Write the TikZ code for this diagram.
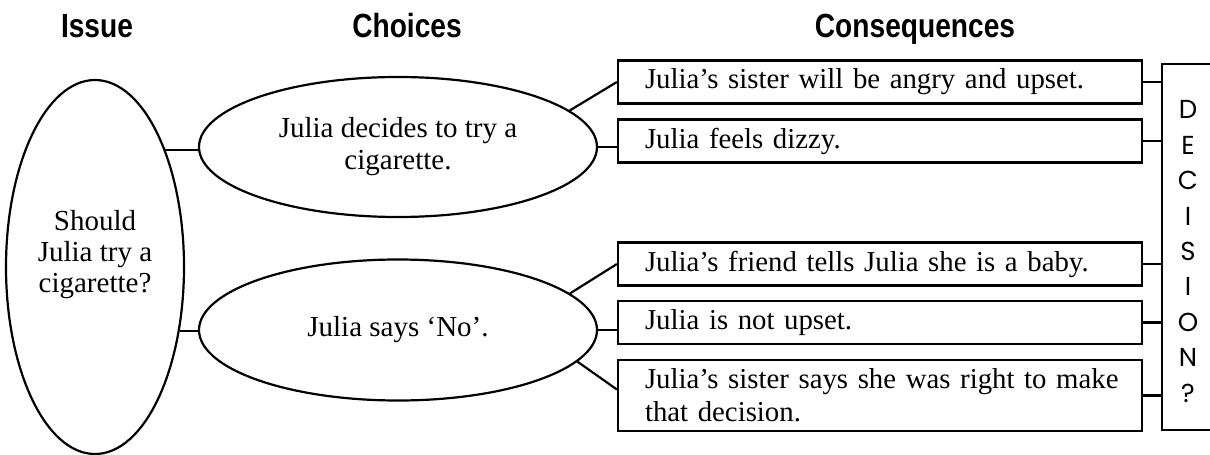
\documentclass[tikz,border=0pt]{standalone}
\usepackage{fontspec}
\setmainfont{Liberation Serif}
\newfontfamily\headfont{Liberation Sans}[FakeStretch=0.84]
\newfontfamily\letterfont{Poppins}
\usetikzlibrary{shapes.geometric}

\begin{document}
\begin{tikzpicture}[x=1pt, y=-1pt,
    heading/.style={font=\headfont\bfseries\fontsize{33.5}{36}\selectfont, anchor=base, inner sep=0pt},
    bubble/.style={draw, ellipse, line width=2.2pt, inner sep=0pt, align=center, font=\fontsize{29}{32}\selectfont},
    consbox/.style={draw, rectangle, line width=2.2pt, text width=470pt, inner xsep=27pt, inner ysep=4pt, minimum height=43pt, align=left, font=\fontsize{28.8}{33}\selectfont},
    link/.style={line width=2.2pt}]
    \useasboundingbox (0,0) rectangle (1210,455);

    % Kopjes
    \node[heading] (hissue) at (97,37) {Issue};
    \node[heading] (hchoices) at (407,37) {Choices};
    \node[heading] (hcons) at (915,37) {Consequences};

    % Vraag
    \node[bubble, minimum width=178pt, minimum height=374pt,
          label={[name=issuetext, align=center, yshift=12pt, font=\fontsize{29}{31}\selectfont]center:Should\\Julia try a\\cigarette?}] (issue) at (95,267) {};

    % Keuzes
    \node[bubble, minimum width=398pt, minimum height=140pt] (c1) at (398,147) {Julia decides to try a\\cigarette.};
    \node[bubble, minimum width=398pt, minimum height=141pt] (c2) at (398,330) {Julia says ‘No’.};

    % Gevolgen
    \node[consbox] (b1) at (880,82) {Julia’s sister will be angry and upset.};
    \node[consbox] (b2) at (880,141) {Julia feels dizzy.};
    \node[consbox] (b3) at (880,264) {Julia’s friend tells Julia she is a baby.};
    \node[consbox] (b4) at (880,322.5) {Julia is not upset.};
    \node[consbox, minimum height=71pt] (b5) at (880,395.5) {\mbox{Julia’s sister says she was right to make}\\that decision.};

    % Besluit
    \node[draw, line width=2.2pt, minimum width=52pt, minimum height=366pt,
          label={[name=dectext, align=center, yshift=-4.5pt, font=\letterfont\fontsize{26}{35.4}\selectfont]center:D\\E\\C\\I\\S\\I\\O\\N\\?}] (dec) at (1188,247) {};

    % Verbindingen
    \draw[link] (issue.59) -- (issue.59 -| c1.west);
    \draw[link] (issue.-37) -- (issue.-37 -| c2.west);
    \draw[link] (c1.12) -- (b1.west);
    \draw[link] (c1.east) -- (c1.east -| b2.west);
    \draw[link] (c2.12) -- (b3.west);
    \draw[link] (c2.east) -- (c2.east -| b4.west);
    \draw[link] (c2.-10) -- ([yshift=6pt]b5.west);
    \foreach \b in {b1,b2,b3,b4,b5}
        \draw[link] (\b.east) -- (\b.east -| dec.west);
\end{tikzpicture}
\end{document}
